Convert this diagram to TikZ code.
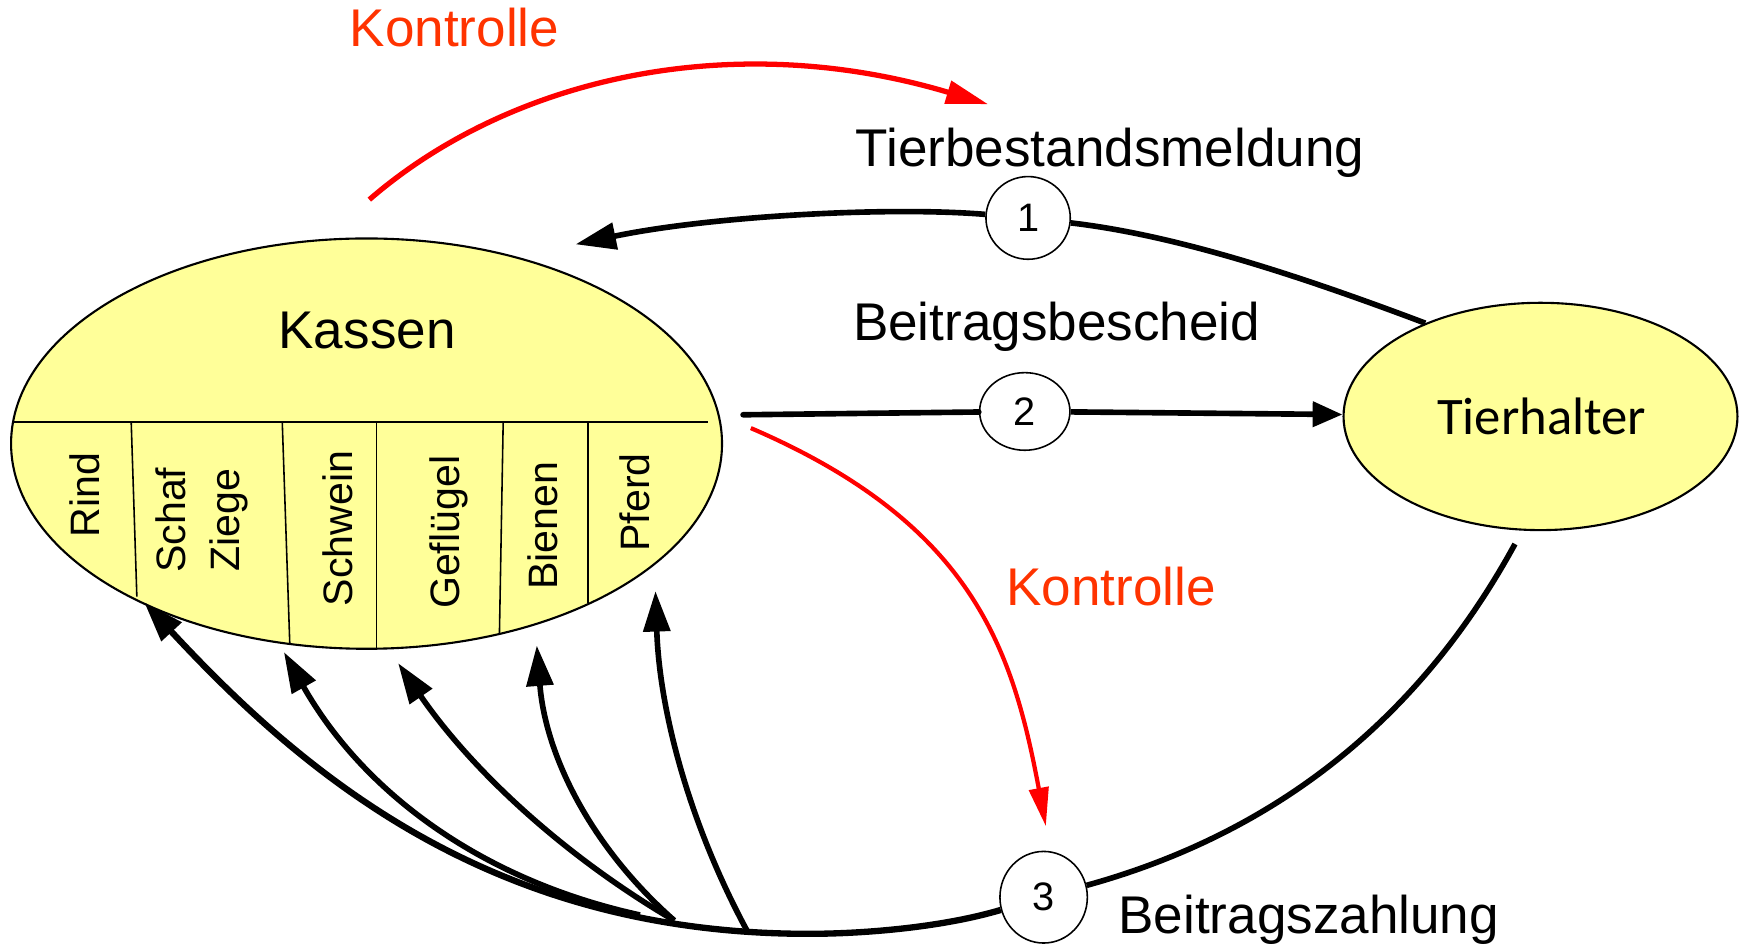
\documentclass[tikz,border=0pt]{standalone}
\usepackage{fontspec}
\setmainfont{Liberation Sans}
\newfontfamily\carlito{Carlito}
\usetikzlibrary{shapes.geometric,arrows.meta}
\definecolor{poolfill}{HTML}{FFFF99}
\definecolor{ctrlline}{HTML}{FF0000}
\definecolor{ctrltext}{HTML}{FF3300}
\tikzset{
  pool/.style={draw, ellipse, fill=poolfill, line width=0.6pt, inner sep=0pt},
  title/.style={anchor=base, inner sep=0pt, font=\fontsize{15.1}{18}\selectfont},
  animal/.style={rotate=90, align=center, inner sep=0pt, font=\fontsize{11.7}{15.5}\selectfont},
  num/.style={draw, ellipse, fill=white, line width=0.45pt, inner sep=0pt, font=\fontsize{11.3}{13}\selectfont},
  divider/.style={line width=0.45pt},
  flowline/.style={line width=1.6pt},
  flowarrow/.style={line width=1.6pt, -{Triangle[length=11.5pt,width=7.5pt]}},
  ctrlarrow/.style={ctrlline, line width=1.35pt, -{Triangle[length=12pt,width=6.5pt]}}
}

\begin{document}
\begin{tikzpicture}[x=0.1109mm, y=-0.1109mm]
\useasboundingbox (0,0) rectangle (1568,852);

\node[pool, minimum width=71.09mm, minimum height=41.03mm] (kassen) at (330.5,400) {};
\node[pool, minimum width=39.39mm, minimum height=22.73mm] (tierhalter) at (1389,375.5) {};
\node[title] (kassentitel) at (331,314) {Kassen};
\node[title, font=\carlito\fontsize{15}{18}\selectfont] (tierhaltertitel) at (1390,391.4) {Tierhalter};

\draw[divider] (12.8,380.6) -- (638,380.6);
\draw[divider] (118.3,380.6) -- (123.4,538);
\draw[divider] (254.5,380.6) -- (261.3,581);
\draw[divider] (339.6,380.6) -- (339.6,584.5);
\draw[divider] (453.7,380.6) -- (450.3,572.5);
\draw[divider] (530.3,380.6) -- (530.3,544);

\node[animal] (rind) at (76.6,446.5) {Rind};
\node[animal] (schaf) at (182,469) {Schaf\\Ziege};
\node[animal] (schwein) at (304.3,476.5) {Schwein};
\node[animal] (gefluegel) at (404.3,480) {Geflügel};
\node[animal] (bienen) at (489.4,474) {Bienen};
\node[animal] (pferd) at (572.4,453) {Pferd};

\node[num, minimum width=8.43mm, minimum height=8.27mm] (c1) at (927,196.5) {1};
\node[num, minimum width=9.03mm, minimum height=7.76mm] (c2) at (924,371) {2};
\node[num, minimum width=8.74mm, minimum height=9.16mm] (c3) at (941,809) {3};

\node[title] (meldung) at (1001,150.3) {Tierbestandsmeldung};
\node[title] (bescheid) at (952.7,306.6) {Beitragsbescheid};
\node[title] (zahlung) at (1180,841.3) {Beitragszahlung};
\node[title, text=ctrltext] (kontrolleoben) at (409.7,42.1) {Kontrolle};
\node[title, text=ctrltext] (kontrollemitte) at (1002,546.3) {Kontrolle};

\coordinate (meldungtip) at (519,220.3);
\coordinate (bescheidstart) at (670,374);
\coordinate (zahlungstart) at (1366,490.5);
\coordinate (bottom) at (729,842);
\coordinate (rindtip) at (130,543);
\coordinate (schafstart) at (577,825);
\coordinate (schaftip) at (256,588);
\coordinate (mittestart) at (608,830);
\coordinate (gefluegeltip) at (359,598);
\coordinate (bienentip) at (484,582);
\coordinate (pferdstart) at (674,840);
\coordinate (pferdtip) at (591,533);
\coordinate (ctrlobenstart) at (333,180);
\coordinate (ctrlobentip) at (891,94);
\coordinate (ctrlmittestart) at (677,386);
\coordinate (ctrlmittetip) at (943,745);

\draw[flowline] (tierhalter.141) .. controls (1170,248) and (1060,212) .. (c1);
\draw[flowarrow] (c1) .. controls (800,186) and (640,195) .. (meldungtip);

\draw[flowline, line cap=round] (bescheidstart) -- (c2);
\draw[flowline, -{Triangle[length=8.5pt,width=7pt]}] (c2) -- (tierhalter);

\draw[flowline] (zahlungstart) .. controls (1280,648) and (1151,751) .. (c3);
\draw[flowarrow, line width=1.8pt] (c3) .. controls (850,836) and (780,842) .. (bottom)
  .. controls (449,842) and (280,705) .. (rindtip);
\draw[flowarrow] (schafstart) .. controls (434,793.7) and (327.5,714.3) .. (schaftip);
\draw[flowarrow] (mittestart) .. controls (507.2,771) and (424.6,693.5) .. (gefluegeltip);
\draw[flowarrow] (mittestart) .. controls (532.8,763.7) and (491.8,681.1) .. (bienentip);
\draw[flowarrow] (pferdstart) .. controls (622.2,744.3) and (594.6,641.9) .. (pferdtip);

\draw[ctrlarrow, line width=1.5pt] (ctrlobenstart) .. controls (460,70) and (660,25) .. (ctrlobentip);
\draw[ctrlarrow, line width=1.2pt, -{Triangle[length=11pt,width=5.5pt]}] (ctrlmittestart) .. controls (877,472) and (913,585) .. (ctrlmittetip);

\end{tikzpicture}
\end{document}
